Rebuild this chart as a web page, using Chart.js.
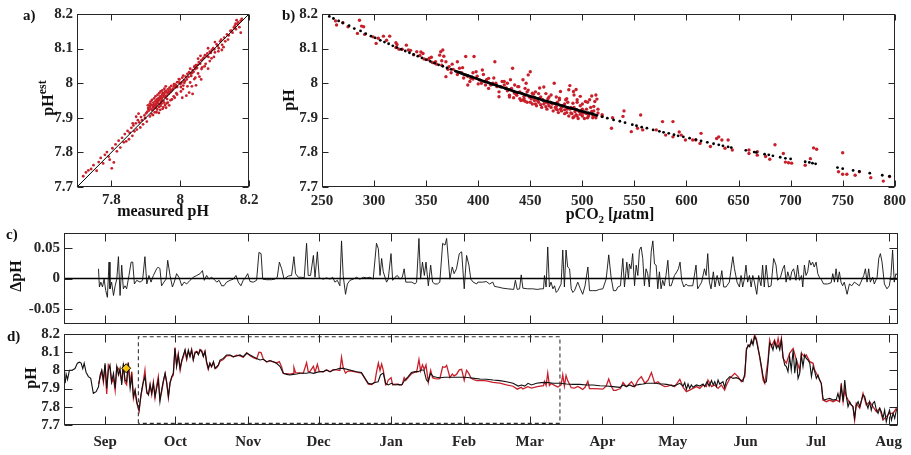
<!DOCTYPE html>
<html><head><meta charset="utf-8">
<script src="https://cdn.jsdelivr.net/npm/chart.js@4.4.0/dist/chart.umd.min.js"></script>
<style>
html,body{margin:0;padding:0;background:#fff;width:911px;height:455px;overflow:hidden}
canvas{position:absolute;left:0;top:0}
</style></head><body>
<canvas id="ca" width="911" height="455"></canvas>
<canvas id="cb" width="911" height="455"></canvas>
<canvas id="cc" width="911" height="455"></canvas>
<canvas id="cd" width="911" height="455"></canvas>
<script>
// ---------------- DATA ----------------
const phTicks = [7.7, 7.8, 7.9, 8, 8.1, 8.2];
const aXTicks = [7.8, 8, 8.2];
const pco2Ticks = [250, 300, 350, 400, 450, 500, 550, 600, 650, 700, 750, 800];
const deltaTicks = [-0.05, 0, 0.05];
const monthLabels = ['Sep','Oct','Nov','Dec','Jan','Feb','Mar','Apr','May','Jun','Jul','Aug'];
const monthDays = [0, 30, 61, 91, 122, 153, 181, 212, 242, 273, 303, 334]; // days since 1 Sep

// panel a: [measured pH, estimated pH]
const scatterA = [
[7.718,7.731],[7.726,7.742],[7.733,7.748],[7.741,7.752],[7.748,7.763],[7.757,7.747],[7.763,7.772],[7.769,7.784],[7.776,7.768],[7.781,7.793],[7.787,7.801],[7.792,7.788],[7.795,7.779],[7.801,7.754],[7.803,7.812],[7.807,7.771],[7.812,7.823],[7.816,7.803],[7.821,7.834],[7.826,7.814],[7.831,7.842],[7.836,7.829],[7.839,7.853],[7.843,7.832],[7.847,7.862],[7.851,7.838],[7.853,7.857],[7.858,7.871],[7.861,7.848],[7.864,7.878],[7.867,7.861],[7.871,7.884],[7.874,7.866],[7.877,7.893],[7.881,7.887],[7.884,7.872],[7.886,7.902],[7.889,7.893],[7.892,7.881],[7.896,7.907],[7.898,7.899],[7.901,7.913],[7.903,7.889],[7.872,7.903],[7.879,7.912],[7.862,7.884],
[7.904,7.917],[7.907,7.928],[7.909,7.921],[7.911,7.934],[7.912,7.904],[7.914,7.926],[7.916,7.938],[7.917,7.911],[7.919,7.922],[7.921,7.931],[7.922,7.944],[7.923,7.927],[7.926,7.933],[7.927,7.937],[7.928,7.948],[7.926,7.916],[7.929,7.929],[7.931,7.941],[7.932,7.953],[7.933,7.924],[7.931,7.936],[7.936,7.942],[7.934,7.947],[7.937,7.957],[7.938,7.931],[7.941,7.939],[7.939,7.951],[7.942,7.962],[7.943,7.934],[7.944,7.946],[7.946,7.952],[7.947,7.957],[7.948,7.967],[7.946,7.941],[7.951,7.949],[7.952,7.961],[7.949,7.972],[7.953,7.944],[7.956,7.959],[7.954,7.971],[7.957,7.977],[7.961,7.964],[7.959,7.976],[7.962,7.954],[7.966,7.969],[7.964,7.982],[7.971,7.974],[7.969,7.987],
[7.906,7.936],[7.912,7.941],[7.914,7.947],[7.918,7.952],[7.924,7.956],[7.928,7.962],[7.934,7.966],[7.939,7.971],[7.943,7.976],[7.948,7.979],[7.954,7.984],[7.958,7.991],[7.931,7.946],[7.936,7.951],[7.924,7.939],[7.921,7.936],[7.913,7.932],[7.908,7.924],[7.941,7.956],[7.944,7.962],[7.952,7.966],[7.957,7.963],[7.963,7.972],[7.967,7.976],[7.972,7.981],[7.976,7.979],[7.982,7.991],[7.986,7.996],[7.991,7.989],[7.996,8.002],
[7.921,7.908],[7.931,7.916],[7.942,7.923],[7.951,7.931],[7.956,7.937],[7.961,7.942],[7.964,7.944],[7.972,7.951],[7.976,7.953],[7.981,7.962],[7.984,7.958],[7.991,7.967],[7.949,7.926],[7.938,7.914],[7.959,7.929],[7.968,7.936],
[7.974,7.992],[7.979,7.984],[7.982,7.997],[7.986,7.988],[7.991,8.003],[7.988,7.994],[7.996,8.012],[8.001,7.998],[7.998,8.011],[8.002,7.989],[8.006,8.016],[8.011,8.008],[8.009,8.022],[8.012,8.001],[8.016,8.019],[8.021,8.027],[8.019,8.011],[8.026,8.032],[8.031,8.028],[8.029,8.042],[8.036,8.038],[8.041,8.047],[8.039,8.033],[8.046,8.052],[8.051,8.053],
[8.004,8.002],[8.009,7.993],[8.014,8.006],[8.024,8.018],[8.032,8.021],[8.034,8.029],[8.042,8.049],[8.044,8.041],[8.049,8.044],[8.058,8.056],
[7.989,7.971],[8.002,7.976],[8.006,7.958],[8.008,7.983],[8.021,7.991],[8.026,7.973],[8.029,8.002],[8.036,7.969],[8.041,8.012],[8.046,7.994],[8.052,8.028],[8.056,8.019],[8.061,8.011],[8.064,8.046],[8.071,8.049],[8.044,8.016],[8.034,7.991],[8.018,7.964],
[8.054,8.061],[8.061,8.066],[8.066,8.071],[8.069,8.074],[8.072,8.081],[8.076,8.079],[8.079,8.086],[8.082,8.076],[8.086,8.091],[8.089,8.088],[8.092,8.096],[8.096,8.101],[8.099,8.098],[8.101,8.089],[8.106,8.112],[8.109,8.108],[8.112,8.101],[8.116,8.121],[8.119,8.126],[8.122,8.111],[8.128,8.132],[8.131,8.121],[8.136,8.141],[8.141,8.138],[8.146,8.151],[8.149,8.152],[8.152,8.146],[8.156,8.161],[8.159,8.166],[8.162,8.156],[8.166,8.171],[8.169,8.176],[8.172,8.162],[8.176,8.181],[8.164,8.182],[8.179,8.186],[8.176,8.146],[8.161,8.172],
[8.074,8.056],[8.086,8.064],[8.091,8.072],[8.098,8.076],[8.111,8.092],[8.121,8.096],[8.126,8.104],[8.139,8.126],[8.081,8.042],[8.062,8.041],[8.059,8.079],[8.081,8.101],[8.052,8.071],[8.101,8.119]
];
const identityLine = [[7.7,7.7],[8.2,8.2]];

// panel b: estimated pH (red) vs pCO2
const estVsPco2 = [
[264,8.168],[263,8.18],[270,8.175],[275,8.163],[286,8.182],[288,8.165],[290,8.163],[284,8.144],[291,8.141],[299,8.134],[304,8.13],[309,8.136],[312,8.124],[315,8.136],[302,8.115],[321,8.117],[321,8.103],[324,8.098],[331,8.11],[333,8.096],[341,8.091],[347,8.086],[353,8.072],[359,8.062],[363,8.081],[364,8.091],[366,8.096],[367,8.078],[369,8.062],[372,8.048],[369,8.019],[380,8.062],[382,8.043],[388,8.024],[388,8.077],[390,7.995],[393,8.014],[396,8.077],[398,8.033],[401,8.01],[404,8.038],[407,7.995],[410,8.014],[414,8.0],[416,8.062],[418,7.99],[420,7.961],[423,8.005],[427,7.986],[431,8.01],[433,8.043],[435,7.971],[439,7.99],[443,8.01],[443,7.951],[446,8.0],[448,8.024],[450,8.033],[452,7.971],[455,7.957],[459,7.986],[462,7.952],[463,7.989],[467,7.942],[470,7.966],[473,8.0],[475,7.933],[476,7.923],[478,7.957],[479,7.976],[483,7.923],[484,7.952],[487,7.981],[489,7.914],[491,7.942],[492,7.966],[492,7.903],[494,7.909],[494,7.982],[495,7.952],[488,7.993],[491.5,7.976],[495,7.923],[498,7.962],[501,7.914],[503,7.947],[506,7.909],[507,7.952],[509,7.963],[511,7.933],[512,7.947],[513,7.966],[514,7.954],[515,7.914],[519,7.904],[519,7.909],
[322,8.112],[327,8.098],[335,8.095],[338,8.082],[344,8.080],[348,8.070],[352,8.068],[356,8.060],[360,8.055],[365,8.052],[371,8.040],[376,8.040],[384,8.030],[390,8.020],[395,8.012],[399,8.020],[403,8.000],[408,8.010],[412,7.995],[417,8.000],[421,7.990],[425,7.995],[428,7.978],[432,7.985],[436,7.970],[440,7.975],[444,7.962],[447,7.975],[451,7.955],[453,7.968],[457,7.950],[460,7.960],[464,7.945],[467,7.955],[471,7.940],[476,7.945],[480,7.930],[483,7.940],[488,7.925],[492,7.930],[497,7.918],[500,7.925],[504,7.912],[509,7.918],[512,7.905],[445,7.948],[455,7.940],[465,7.932],[475,7.925],[485,7.915],[495,7.905],[505,7.900],[470,7.930],[490,7.912],[500,7.905],[460,7.938],[450,7.945],[440,7.955],[430,7.965],[420,7.975],[410,7.985],[480,7.920],[510,7.900],[498,7.935],[486,7.945],[478,7.952],[468,7.960],[458,7.970],[448,7.980],[438,7.990],[428,8.000],
[430,7.960],[434,7.958],[437,7.965],[441,7.950],[444,7.955],[447,7.945],[449,7.960],[452,7.940],[454,7.950],[456,7.935],[458,7.945],[461,7.930],[463,7.940],[466,7.925],[468,7.935],[469,7.945],[472,7.920],[474,7.930],[477,7.915],[479,7.925],[481,7.935],[483,7.912],[485,7.925],[487,7.905],[489,7.930],[491,7.900],[493,7.918],[496,7.898],[498,7.910],[500,7.915],[502,7.898],[504,7.925],[506,7.905],[508,7.930],[510,7.908],[511,7.920],[513,7.900],[515,7.925],[500,7.940],[505,7.945],[495,7.945],[485,7.955],[475,7.960],[465,7.970],[455,7.975],[445,7.985],[435,7.995],[425,8.005],[415,8.015],[405,8.025],[395,8.030],[385,8.045],[375,8.055],[365,8.065],[355,8.075],[345,8.090],[400,7.998],[392,8.005],[386,8.015],[380,8.025],[374,8.030],
[528,7.87],[529,7.90],[540,7.92],[539,7.904],[547,7.86],[553,7.87],[556,7.908],[558,7.865],[571,7.865],[577,7.889],[580,7.85],[587,7.845],[587,7.889],[593,7.859],[595,7.85],[599,7.836],[606,7.836],[609,7.836],[614,7.855],[613,7.826],[623,7.817],[629,7.84],[631,7.845],[634,7.836],[637,7.812],[640,7.836],[644,7.807],[660,7.797],[660,7.807],[668,7.802],[668,7.792],[676,7.788],[680,7.78],[685,7.822],[693,7.797],[695,7.772],[698,7.77],[701,7.769],[714,7.763],[719,7.782],[722,7.813],[725,7.809],[746,7.744],[750,7.799],[750,7.737],[754,7.737],[762,7.734],[766,7.744],[777,7.727],[789,7.717],[795,7.73]
];
// panel b: calculated pH (black) vs pCO2
const calcVsPco2 = [
[257,8.193],[261,8.187],[266,8.180],[270,8.174],[276,8.166],[281,8.158],[287,8.151],[292,8.143],[297,8.136],[301,8.131],[306,8.124],[310,8.119],[314,8.114],[318,8.108],[322,8.103],[326,8.098],[330,8.093],[334,8.088],[338,8.083],[342,8.078],[346,8.073],[350,8.068],[354,8.063],[358,8.058],[362,8.053],[366,8.049],[370,8.044],[374,8.040],[378,8.035],[382,8.031],[386,8.026],[390,8.022],[394,8.018],[398,8.014],[402,8.009],[406,8.005],[410,8.001],[414,7.997],[418,7.993],[422,7.989],[426,7.985],[430,7.981],[434,7.977],[438,7.973],[442,7.970],[446,7.966],[450,7.962],[454,7.959],[458,7.955],[462,7.951],[466,7.948],[470,7.944],[474,7.941],[478,7.937],[482,7.934],[486,7.930],[490,7.927],[494,7.924],[498,7.920],[502,7.917],[506,7.914],[510,7.911],[514,7.907],[519,7.903],[524,7.899],[530,7.894],[536,7.890],[541,7.886],[548,7.880],[552,7.877],[557,7.873],[562,7.870],[568,7.865],[574,7.861],[578,7.858],[583,7.855],[588,7.851],[592,7.848],[597,7.845],[603,7.841],[609,7.837],[614,7.833],[620,7.829],[626,7.825],[631,7.822],[635,7.819],[640,7.816],[643,7.814],[657,7.806],[665,7.801],[667,7.800],[675,7.795],[679,7.793],[683,7.790],[690,7.786],[695,7.783],[700,7.781],[714,7.773],[718,7.771],[721,7.769],[724,7.767],[745,7.756],[750,7.753],[760,7.748],[766,7.745],[776,7.740],[788,7.734],[795,7.731]
];

// panel c: delta pH (est - measured), [day since 1 Sep, value]
const deltaSeries = [
[-2.8,0.016],[-2.4,-0.014],[-1.8,-0.006],[-1.1,-0.014],[-0.4,-0.001],[0.3,-0.020],[1.0,-0.031],[1.7,0.027],[2.1,-0.017],[2.8,-0.006],[3.6,-0.028],[4.3,-0.012],[5.0,-0.001],[5.7,0.036],[6.4,-0.028],[7.1,0.022],[7.8,-0.017],[8.5,-0.012],[9.2,-0.017],[10.2,0.005],[11.1,0.027],[11.8,0.027],[12.5,-0.009],[13.5,-0.003],[14.9,-0.006],[16.0,-0.003],[17.0,0.036],[17.8,-0.009],[18.7,0.005],[19.6,-0.006],[20.6,0.005],[22.0,0.016],[22.7,0.019],[23.4,0.016],[24.1,-0.012],[25.1,-0.006],[26.0,-0.001],[26.7,0.030],[27.7,0.005],[28.7,-0.014],[29.5,-0.006],[30.5,0.008],[31.5,0.002],[32.7,-0.012],[33.7,-0.006],[34.8,-0.009],[36.2,-0.003],[37.6,0.002],[39.1,0.005],[40.5,0.008],[41.5,0.013],[42.3,-0.003],[43.3,0.005],[44.3,-0.001],[45.4,0.002],[46.4,-0.001],[47.6,-0.006],[48.6,-0.003],[49.7,-0.012],[50.7,-0.012],[51.8,-0.006],[53.3,-0.003],[54.7,-0.001],[55.8,0.005],[56.8,-0.006],[57.9,-0.012],[58.9,-0.003],[59.9,0.002],[60.8,0.008],[61.8,-0.005],[63.2,-0.006],[64.6,-0.003],[65.6,0.043],[66.5,0.041],[67.2,-0.001],[68.9,-0.002],[71.0,-0.002],[72.4,-0.001],[73.4,0.002],[74.3,0.027],[75.3,0.016],[76.3,-0.001],[78.1,0.004],[79.5,0.005],[80.5,0.036],[81.2,0.008],[82.4,0.002],[83.8,0.002],[84.9,0.001],[85.9,0.058],[86.6,0.005],[87.6,0.005],[88.8,0.038],[89.5,0.002],[90.5,0.044],[91.3,0.001],[93.0,-0.001],[94.4,0.001],[95.9,-0.001],[97.0,0.002],[98.0,-0.006],[99.0,-0.003],[100.1,-0.012],[100.8,0.062],[101.5,0.005],[102.5,-0.026],[103.3,-0.009],[104.4,-0.003],[105.8,-0.001],[107.2,0.002],[108.6,-0.001],[110.1,0.002],[111.5,0.001],[112.9,0.002],[114.3,-0.001],[115.7,0.058],[116.5,0.049],[117.2,0.005],[117.9,0.033],[118.6,0.011],[120.0,-0.006],[120.7,-0.001],[121.9,0.041],[122.6,-0.003],[123.6,0.002],[124.6,0.005],[125.7,-0.001],[126.7,0.002],[127.5,0.016],[128.2,-0.006],[129.2,-0.006],[130.7,-0.006],[132.1,-0.009],[132.8,-0.006],[133.8,0.066],[134.5,-0.001],[135.3,0.027],[136.1,0.005],[136.8,0.027],[137.8,-0.012],[138.8,0.022],[139.6,-0.006],[140.6,-0.009],[141.7,-0.009],[142.7,-0.006],[143.9,0.058],[144.9,0.055],[145.6,0.066],[146.3,0.033],[147.0,-0.001],[148.0,0.019],[148.8,0.008],[149.8,0.016],[151.0,0.041],[152.0,0.044],[153.1,-0.017],[154.1,0.038],[155.1,0.022],[155.9,-0.001],[156.9,-0.006],[158.4,-0.009],
[158.9,-0.006],[161.0,-0.006],[162.5,-0.005],[163.9,-0.009],[165.3,-0.006],[166.0,-0.013],[167.4,-0.014],[169.6,-0.016],[171.7,-0.017],[174.2,-0.018],[174.9,-0.003],[175.7,-0.018],[176.7,-0.017],[177.4,0.006],[178.1,-0.016],[180.2,-0.017],[182.3,-0.017],[184.2,-0.018],[185.9,-0.017],[186.9,-0.017],[187.3,0.005],[188.0,-0.014],[188.7,0.052],[189.4,-0.014],[190.1,-0.006],[190.9,-0.017],[191.6,-0.012],[192.3,-0.023],[193.0,-0.020],[194.4,-0.009],[195.1,0.047],[195.8,-0.014],[196.5,0.047],[197.2,0.019],[198.0,0.016],[198.7,-0.017],[199.4,-0.023],[200.1,-0.020],[201.5,-0.006],[202.6,-0.017],[203.6,-0.026],[204.6,-0.012],[205.8,0.019],[206.5,-0.020],[207.9,-0.020],[209.3,-0.020],[210.7,-0.018],[212.2,-0.017],[213.6,-0.001],[214.7,0.039],[215.7,0.002],[216.7,-0.020],[217.8,-0.020],[218.6,-0.014],[219.7,-0.012],[220.7,0.033],[221.4,-0.014],[222.4,0.027],[223.1,-0.001],[223.5,0.024],[224.2,0.016],[224.9,0.041],[225.7,-0.012],[226.4,0.022],[227.1,0.005],[227.8,0.047],[228.5,0.052],[229.2,0.033],[229.9,-0.012],[230.6,0.016],[231.3,0.008],[232.0,-0.014],[232.8,0.044],[233.5,0.062],[234.2,0.024],[234.9,0.022],[235.6,-0.017],[236.3,0.011],[237.0,-0.017],[237.7,-0.003],[238.4,-0.012],[239.1,0.005],[239.9,0.030],[240.6,-0.012],[241.3,-0.012],[242.7,0.005],[243.7,0.011],[244.4,0.016],[245.1,0.027],[245.8,-0.003],[246.7,-0.014],[247.7,-0.009],[248.4,-0.012],[249.4,-0.012],[250.5,-0.012],[251.9,0.022],[252.6,-0.017],[253.4,-0.012],[254.3,-0.006],[255.5,0.016],[256.2,0.005],[256.9,0.041],[257.6,-0.006],[258.3,-0.017],[259.3,0.011],[260.0,-0.014],[260.9,0.005],[261.9,-0.012],[262.9,0.013],[263.7,-0.014],[264.7,-0.014],[266.1,-0.006],[267.6,0.036],[268.3,0.016],[269.4,-0.006],[270.4,-0.014],[271.1,0.005],[271.8,-0.014],[272.5,-0.001],[273.2,0.022],[273.9,-0.006],[274.7,0.005],[275.4,-0.014],[276.1,0.005],[276.8,-0.006],[277.8,-0.026],[278.6,0.005],[279.6,-0.012],[280.3,0.022],[281.0,-0.014],[281.8,0.022],[282.8,-0.014],[283.9,-0.012],[285.0,0.033],[286.0,0.022],[286.7,-0.003],[287.9,0.002],[288.9,0.016],[289.6,0.022],[290.3,-0.006],[291.0,0.011],[292.0,-0.003],[292.7,0.011],[293.5,0.016],[294.5,-0.003],[295.2,0.022],[296.0,-0.003],[296.9,0.005],[297.4,-0.014],[298.1,0.022],[298.8,0.005],[299.5,0.011],[300.2,0.030],[300.9,0.022],[301.6,0.027],[302.3,0.019],[303.1,0.027],[303.8,0.008],[304.5,0.002],[305.2,-0.001],[306.3,-0.009],[308.0,-0.009],[309.5,-0.007],[310.2,0.008],[310.9,-0.006],[311.6,0.016],[312.3,-0.006],[313.0,0.011],[313.7,-0.006],[314.4,-0.012],[315.1,-0.006],[316.3,-0.026],[317.3,-0.009],[318.3,-0.012],[319.4,-0.006],[320.5,-0.009],[321.5,-0.012],[322.2,-0.006],[323.4,0.005],[324.1,0.016],[324.8,-0.006],[325.5,0.016],[326.2,-0.006],[327.2,0.002],[327.9,-0.009],[329.1,0.002],[329.8,0.033],[330.5,0.041],[331.2,0.027],[332.2,-0.009],[333.3,-0.017],[334.3,-0.012],[335.0,0.005],[335.7,0.047],[336.4,-0.006],[337.1,0.008],[337.9,0.005]
];

// panel d: measured pH (black), [day, pH]
const measuredSeries = [
[-17.0,7.93],[-16.6,7.98],[-16.0,7.95],[-15.2,8.0],[-14.2,8.0],[-12.8,8.01],[-11.8,8.04],[-10.9,8.045],[-10.2,8.04],[-9.5,8.01],[-8.9,8.04],[-8.1,7.99],[-7.1,7.966],[-6.1,7.956],[-5.0,7.874],[-3.8,7.883],[-2.8,7.91],[-2.1,7.975],[-1.4,8.002],[-0.7,7.947],[0,8.039],[0.7,7.901],[1.4,8.002],[2.1,8.03],[2.8,7.938],[3.6,7.984],[4.3,7.901],[5.0,8.021],[5.7,7.975],[6.4,8.011],[7.1,7.92],[7.8,8.039],[8.5,7.947],[9.2,7.938],[9.9,8.039],[10.7,7.901],[11.4,7.966],[12.1,7.856],[12.8,7.892],[13.5,7.828],[14.5,7.782],[15.3,7.865],[16.0,7.92],[17.0,7.966],[17.8,7.883],[18.5,7.865],[19.2,7.92],[19.9,7.874],[20.6,7.929],[21.3,7.856],[22.0,7.901],[22.7,7.947],[23.4,7.828],[24.1,7.892],[24.9,7.947],[25.6,7.984],[26.3,7.929],[27.0,7.856],[27.7,7.929],[28.4,7.966],[29.1,7.984],[29.8,8.121],[30.5,8.021],[31.2,8.085],[32.0,8.011],[32.7,8.057],[33.4,8.085],[34.1,8.112],[34.8,8.066],[35.5,8.112],[36.2,8.075],[36.9,8.112],[37.6,8.057],[38.3,8.094],[39.1,8.103],[39.8,8.085],[40.5,8.112],[41.2,8.103],[41.9,8.075],[42.6,8.103],[43.3,8.048],[44.0,8.011],[44.7,8.039],[45.4,8.021],[46.2,8.048],[46.9,8.011],[47.6,8.021],[48.3,8.03],[49.0,8.057],[50.4,8.066],[51.8,8.085],[53.3,8.085],[54.7,8.075],[56.1,8.079],[57.5,8.085],[58.9,8.075],[60.4,8.094],[61.8,8.085],[63.2,8.075],[64.6,8.066],[66.0,8.057],[67.5,8.061],[68.9,8.048],[70.3,8.054],[71.7,8.048],[73.1,8.039],[74.6,8.021],[75.3,8.002],[76.0,7.984],[77.4,7.978],[78.8,7.975],[80.2,7.978],[81.7,7.98],[83.1,7.984],[84.5,7.984],[85.9,7.984],[87.3,7.988],[88.8,7.984],[90.2,7.989],[91.6,7.993],[93.0,7.993],[94.4,8.002],[95.9,7.993],[97.3,8.002],[98.7,8.006],[100.1,8.011],[101.5,8.011],
[104.4,8.002],[107.2,7.993],[109.3,7.988],[110.8,7.956],[112.2,7.929],[113.6,7.925],[115.0,7.933],[116.4,7.938],[117.4,7.975],[118.6,7.985],[119.6,7.929],[120.7,7.92],[122.1,7.929],[123.5,7.92],[125.0,7.923],[126.4,7.92],[127.8,7.947],[129.2,7.966],[130.6,7.988],[132.1,7.993],[133.5,7.993],[134.9,8.002],[135.9,8.002],[137.0,7.947],[137.7,7.938],[138.7,7.984],[139.9,7.966],[141.3,7.962],[142.7,7.96],[144.8,7.962],[147.0,7.962],[149.1,7.962],[151.2,7.962],[153.4,7.962],[155.5,7.96],[157.6,7.956],[159.8,7.953],[162.6,7.951],[165.4,7.947],[168.3,7.944],[171.1,7.938],[173.9,7.929],[176.1,7.914],[177.5,7.92],[178.9,7.914],[180.3,7.929],[181.8,7.92],[183.9,7.929],[186.0,7.933],[188.2,7.934],[191.0,7.929],[193.8,7.929],[196.7,7.925],[199.5,7.923],[202.4,7.923],[205.2,7.92],[208.0,7.92],[210.9,7.916],[213.7,7.914],[216.6,7.911],[219.4,7.907],
[220.8,7.92],[222.2,7.911],[223.7,7.92],[225.1,7.911],[226.5,7.92],[227.9,7.923],[229.3,7.925],[230.8,7.929],[232.2,7.929],[233.6,7.929],[235.0,7.929],[236.4,7.925],[237.9,7.925],[239.3,7.923],[240.7,7.92],[242.1,7.914],[243.5,7.92],[245.0,7.929],[246.4,7.914],[247.1,7.933],[247.8,7.896],[248.5,7.925],[249.2,7.901],[249.9,7.92],[250.6,7.907],[252.1,7.92],[253.5,7.914],[254.9,7.925],[255.6,7.911],[256.6,7.938],[257.5,7.914],[258.5,7.944],[259.2,7.92],[259.9,7.938],[260.6,7.911],[261.3,7.947],[262.0,7.925],[263.4,7.938],[264.1,7.907],[264.9,7.947],[265.6,7.956],[266.3,7.966],[267.7,7.956],[269.1,7.96],[270.5,7.951],[271.9,7.938],[272.7,7.984],[273.4,8.112],[274.1,8.14],[274.8,8.13],[275.5,8.167],[276.2,8.14],[276.9,8.185],[277.6,8.167],[278.3,8.121],[279.1,8.075],[279.8,8.021],[280.5,7.966],[281.2,7.933],[281.9,7.938],[282.6,8.039],[283.3,8.149],[284.0,8.14],[284.7,8.112],[285.4,8.158],[286.2,8.121],[286.9,8.14],[287.6,8.112],[288.3,8.167],[289.0,8.075],[289.7,8.03],[290.4,8.021],[291.1,7.993],[291.8,8.075],[292.5,8.002],[293.3,8.112],[294.0,7.984],[294.7,8.066],[295.4,7.956],[296.1,7.984],[296.8,8.085],[297.5,8.021],[298.2,8.085],[298.9,8.066],[299.6,8.057],[300.4,8.039],[301.1,7.966],[301.8,8.021],[302.5,7.993],[303.2,7.956],[303.9,7.975],[304.6,7.947],[305.3,7.929],[306.0,7.847],[306.7,7.837],[307.5,7.841],[308.9,7.847],[310.3,7.837],[311.7,7.841],[312.4,7.874],[313.1,7.837],[313.8,7.911],[314.6,7.828],[315.3,7.947],[316.0,7.856],[316.7,7.801],[317.4,7.828],[318.1,7.81],[318.8,7.801],[319.5,7.737],[320.2,7.81],[321.0,7.828],[321.7,7.801],[323.1,7.865],[323.8,7.856],[324.5,7.819],[325.2,7.792],[325.9,7.828],[326.6,7.782],[327.3,7.819],[328.0,7.828],[328.8,7.782],[329.5,7.764],[330.2,7.792],[330.9,7.773],[331.6,7.737],[332.3,7.782],[333.0,7.718],[333.7,7.755],[334.4,7.782],[335.2,7.727],[335.9,7.764],[336.6,7.737],[337.3,7.782],[338.7,7.801]
];

// panel d: estimated pH (red), [day, pH]
const estimatedSeries = [
[-2.8,7.925],[-2.1,7.96],[-1.4,7.995],[-0.7,7.935],[0,8.03],[0.7,7.87],[1.4,8.03],[2.1,8.013],[2.8,7.932],[3.6,7.956],[4.3,7.89],[5.0,8.02],[5.7,8.01],[6.4,7.983],[7.1,7.942],[7.8,8.022],[8.5,7.935],[9.2,7.921],[9.9,8.044],[10.7,7.928],[11.4,7.993],[12.1,7.847],[12.8,7.889],[13.5,7.822],[14.5,7.776],[15.3,7.861],[16.0,7.911],[17.0,8.002],[17.8,7.874],[18.5,7.87],[19.2,7.925],[19.9,7.868],[20.6,7.935],[21.3,7.85],[22.0,7.917],[22.7,7.966],[23.4,7.844],[24.1,7.88],[24.9,7.94],[25.6,7.983],[26.3,7.934],[27.0,7.85],[27.7,7.935],[28.4,7.96],[29.1,7.975],[29.8,8.125],[30.5,8.03],[31.2,8.09],[32.0,8.0],[32.7,8.05],[33.4,8.075],[34.1,8.11],[34.8,8.06],[35.5,8.105],[36.2,8.08],[36.9,8.115],[37.6,8.06],[38.3,8.10],[39.1,8.105],[39.8,8.09],[40.5,8.115],[41.2,8.11],[41.9,8.08],[42.6,8.105],[43.3,8.04],[44.0,8.005],[44.7,8.04],[45.4,8.02],[46.2,8.045],[46.9,8.01],[47.6,8.015],[48.3,8.027],[49.0,8.05],[50.4,8.06],[51.8,8.08],[53.3,8.082],[54.7,8.074],[56.1,8.084],[57.5,8.08],[58.9,8.073],[60.4,8.097],[61.8,8.08],[63.2,8.07],[64.6,8.063],[65.6,8.10],[66.5,8.098],[67.5,8.06],[68.9,8.046],[70.3,8.052],[71.7,8.047],[73.1,8.041],[74.3,8.048],[75.3,8.018],[76.0,7.983],[77.4,7.982],[78.8,7.98],[80.2,7.983],[80.5,8.016],[81.2,7.988],[83.1,7.986],[84.5,7.985],[85.9,8.042],[86.6,7.993],[87.3,7.993],[88.8,8.022],[89.5,7.99],[90.5,8.033],[91.3,7.994],[93.0,7.992],[94.4,8.003],[95.9,7.992],[97.3,8.004],[98.7,8.003],[100.1,7.999],[100.8,8.073],[101.5,8.016],
[102.5,7.985],[103.3,7.995],[104.4,7.998],[107.2,7.99],[109.3,7.985],[110.8,7.955],[112.2,7.925],[113.6,7.922],[115.0,7.935],[115.7,7.99],[116.5,8.04],[117.2,8.0],[117.9,8.035],[118.6,8.0],[119.6,7.92],[120.0,7.922],[120.7,7.947],[121.9,7.96],[122.6,7.92],[123.6,7.925],[124.6,7.925],[125.7,7.92],[126.7,7.923],[127.5,7.96],[128.2,7.945],[129.2,7.96],[130.7,7.982],[132.1,7.99],[132.8,7.99],[133.8,8.06],[134.5,7.998],[135.3,8.03],[136.1,8.005],[136.8,8.03],[137.8,7.935],[138.8,8.0],[139.6,7.96],[140.6,7.955],[141.7,7.953],[142.7,7.955],[143.9,8.02],[144.9,8.017],[145.6,8.028],[146.3,7.995],[147.0,7.961],[148.0,7.98],[148.8,7.97],[149.8,7.978],[151.0,8.003],[152.0,8.006],[153.1,7.945],[154.1,8.0],[155.1,7.982],[155.9,7.959],[156.9,7.95],[158.4,7.944],[160.0,7.945],[162.6,7.943],[165.3,7.934],[168.3,7.93],[171.1,7.921],[173.9,7.913],[175.7,7.897],[177.4,7.907],[178.1,7.898],[180.2,7.911],[181.8,7.903],[184.2,7.911],[186.9,7.916],[187.3,7.939],[188.0,7.917],[188.7,7.986],[189.4,7.917],[190.1,7.928],[191.6,7.918],[193.0,7.909],[194.4,7.92],[195.1,7.976],[195.8,7.914],[196.5,7.972],[197.2,7.944],[198.7,7.905],[200.1,7.903],[201.5,7.912],[202.6,7.904],[203.6,7.895],[204.6,7.907],[205.8,7.94],[206.5,7.90],[208.0,7.90],[210.7,7.898],[212.2,7.897],[213.6,7.913],[214.7,7.953],[215.7,7.915],[216.7,7.89],[217.8,7.89],[218.6,7.895],[219.7,7.9],
[220.8,7.933],[222.2,7.911],[224.4,7.938],[225.8,7.911],[227.2,7.947],[228.6,7.966],[230.1,7.929],[231.5,7.947],[232.9,7.988],[234.3,7.929],[235.7,7.938],[237.2,7.92],[238.6,7.911],[240.0,7.914],[241.4,7.92],[242.8,7.911],[244.3,7.938],[245.0,7.951],[246.4,7.907],[247.8,7.883],[249.2,7.892],[250.6,7.901],[252.1,7.911],[253.5,7.901],[254.9,7.92],[256.3,7.911],[257.0,7.947],[258.5,7.911],[259.9,7.92],[261.3,7.901],[262.7,7.92],[264.1,7.892],[264.9,7.92],[266.3,7.956],[267.7,7.975],[268.4,7.984],[269.8,7.966],[271.2,7.938],[272.7,7.966],[273.4,8.121],[274.8,8.14],[276.2,8.158],[276.9,8.195],[277.6,8.176],[278.3,8.13],[279.1,8.066],[279.8,8.011],[280.5,7.947],[281.2,7.929],[282.6,8.057],[283.3,8.167],[284.0,8.13],[284.7,8.149],[285.4,8.167],[286.2,8.13],[286.9,8.176],[287.6,8.13],[288.3,8.176],[289.0,8.066],[290.4,8.039],[291.8,8.094],[293.3,8.121],[294.7,8.057],[296.1,8.002],[296.8,8.094],[298.2,8.075],[298.9,8.085],[300.4,8.048],[301.8,8.039],[302.5,8.002],[303.2,7.984],[304.6,7.947],[305.3,7.929],[306.0,7.837],[307.5,7.828],[308.9,7.837],[310.3,7.828],[311.7,7.837],[313.1,7.828],[313.8,7.929],[314.6,7.828],[315.3,7.892],[316.0,7.856],[317.4,7.819],[318.8,7.801],[319.5,7.727],[320.2,7.819],[321.7,7.792],[323.1,7.874],[324.5,7.81],[325.9,7.828],[327.3,7.801],[328.8,7.773],[330.2,7.792],[331.6,7.727],[333.0,7.746],[334.4,7.764],[335.9,7.764],[337.3,7.792],[338.7,7.81]
];
const boxDays = [14.2, 193.9];
const boxPH = [7.709, 8.185];
const markerPoint = [9.0, 8.012];

// ---------------- RENDERING ----------------
const FAM = '"Liberation Serif", "Times New Roman", serif';
const AX = '#262626';
const RED = '#c8202b';
const B15 = 'bold 15px ' + FAM, B16 = 'bold 16px ' + FAM, B12 = 'bold 12px ' + FAM, B11 = 'bold 11px ' + FAM, BI16 = 'italic bold 16px ' + FAM;
const pts = arr => arr.map(p => ({x: p[0], y: p[1]}));

function drawRuns(ctx, it) {
  ctx.save();
  ctx.fillStyle = it.color || '#111';
  ctx.textBaseline = 'alphabetic';
  let w = 0;
  it.runs.forEach(r => { ctx.font = r.f; r.w = ctx.measureText(r.t).width; w += r.w; });
  ctx.translate(it.x, it.y);
  if (it.rot) ctx.rotate(it.rot);
  let x = it.align === 'left' ? 0 : -w / 2;
  it.runs.forEach(r => { ctx.font = r.f; ctx.fillText(r.t, x, r.dy || 0); x += r.w; });
  ctx.restore();
}

const framePlugin = {
  id: 'frame',
  afterDatasetsDraw(chart, args, opts) {
    const ctx = chart.ctx, a = chart.chartArea;
    const xs = chart.scales.x, ys = chart.scales.y, tl = opts.tickLen || 6;
    const L = Math.round(a.left) + 0.5, R = Math.round(a.right) - 0.5, T = Math.round(a.top) + 0.5, B = Math.round(a.bottom) - 0.5;
    ctx.save();
    ctx.strokeStyle = AX; ctx.lineWidth = 1;
    ctx.beginPath();
    xs.ticks.forEach(t => {
      const px = Math.round(xs.getPixelForValue(t.value)) + 0.5;
      ctx.moveTo(px, B); ctx.lineTo(px, B - tl);
      ctx.moveTo(px, T); ctx.lineTo(px, T + tl);
    });
    ys.ticks.forEach(t => {
      const py = Math.round(ys.getPixelForValue(t.value)) + 0.5;
      ctx.moveTo(L, py); ctx.lineTo(L + tl, py);
      ctx.moveTo(R, py); ctx.lineTo(R - tl, py);
    });
    ctx.stroke();
    ctx.strokeRect(L, T, R - L, B - T);
    ctx.restore();
  },
  afterDraw(chart, args, opts) {
    (opts.texts || []).forEach(it => drawRuns(chart.ctx, it));
  }
};
Chart.register(framePlugin);

function axis(min, max, tickVals, o) {
  o = o || {};
  return {
    type: 'linear', min, max,
    grid: {display: false, drawTicks: false}, border: {display: false},
    afterBuildTicks: s => { s.ticks = tickVals.map(v => ({value: v})); },
    ticks: {
      display: o.labels !== false, color: AX, padding: o.pad || 4, autoSkip: false, maxRotation: 0,
      font: {family: FAM, size: 15, weight: 'bold'},
      callback: o.cb || (v => String(v))
    }
  };
}

function makeChart(id, area, datasets, xAx, yAx, texts, tickLen) {
  const [L, T, R, B] = area;
  xAx.afterFit = s => { s.height = 455 - B; };
  yAx.afterFit = s => { s.width = L; };
  return new Chart(document.getElementById(id), {
    type: 'scatter',
    data: {datasets},
    options: {
      responsive: false, animation: false, devicePixelRatio: 1, events: [],
      layout: {padding: {left: 0, top: T, right: 911 - R, bottom: 0}},
      scales: {x: xAx, y: yAx},
      plugins: {legend: {display: false}, tooltip: {enabled: false}, frame: {tickLen, texts}}
    }
  });
}

// Panel a
makeChart('ca', [77, 14, 249, 187], [
  {data: pts(identityLine), showLine: true, borderColor: '#000', borderWidth: 1, pointRadius: 0},
  {data: pts(scatterA), pointRadius: 1.4, pointBackgroundColor: RED, pointBorderWidth: 0, showLine: false}
], axis(7.7, 8.2, aXTicks, {pad: 4}), axis(7.7, 8.2, phTicks, {pad: 4}), [
  {runs: [{t: 'a)', f: B15}], x: 23, y: 20, align: 'left'},
  {runs: [{t: 'measured pH', f: B16}], x: 163, y: 216},
  {runs: [{t: 'pH', f: B16}, {t: 'est', f: B12, dy: -7}], x: 53, y: 98, rot: -Math.PI / 2}
], 6);

// Panel b
const calcDense = calcVsPco2.filter(p => p[0] >= 376 && p[0] <= 515);
makeChart('cb', [322, 14, 898, 187], [
  {data: pts(calcDense), showLine: true, borderColor: '#000', borderWidth: 2.6, pointRadius: 0},
  {data: pts(calcVsPco2), pointRadius: 1.4, pointBackgroundColor: '#000', pointBorderWidth: 0, showLine: false},
  {data: pts(estVsPco2), pointRadius: 1.7, pointBackgroundColor: RED, pointBorderWidth: 0, showLine: false}
], axis(250, 800, pco2Ticks, {pad: 5}), axis(7.7, 8.2, phTicks, {pad: 4}), [
  {runs: [{t: 'b)', f: B15}], x: 282, y: 20, align: 'left'},
  {runs: [{t: 'pH', f: B16}], x: 294, y: 100, rot: -Math.PI / 2},
  {runs: [{t: 'pCO', f: B16}, {t: '2', f: B11, dy: 4}, {t: ' [', f: B16}, {t: 'μ', f: BI16}, {t: 'atm]', f: B16}], x: 610, y: 219}
], 6);

// Panel c
makeChart('cc', [64, 233, 898, 324], [
  {data: [{x: -17.5, y: 0}, {x: 338, y: 0}], showLine: true, borderColor: '#000', borderWidth: 1.3, pointRadius: 0},
  {data: pts(deltaSeries), showLine: true, borderColor: '#111', borderWidth: 0.9, pointRadius: 0, tension: 0}
], axis(-17.5, 338, monthDays, {labels: false}), axis(-0.075, 0.075, deltaTicks, {pad: 4}), [
  {runs: [{t: 'c)', f: B15}], x: 6, y: 239, align: 'left'},
  {runs: [{t: 'ΔpH', f: B16}], x: 21, y: 276, rot: -Math.PI / 2}
], 8);

// Panel d
const boxLine = [[boxDays[0], boxPH[0]], [boxDays[0], boxPH[1]], [boxDays[1], boxPH[1]], [boxDays[1], boxPH[0]], [boxDays[0], boxPH[0]]];
makeChart('cd', [64, 334, 898, 425], [
  {data: [{x: markerPoint[0], y: markerPoint[1]}], pointStyle: 'rectRot', pointRadius: 4.5, pointBackgroundColor: '#f4c20d', pointBorderColor: '#000', pointBorderWidth: 1, showLine: false},
  {data: pts(boxLine), showLine: true, borderColor: '#333', borderWidth: 1.1, borderDash: [4, 3], pointRadius: 0},
  {data: pts(measuredSeries), showLine: true, borderColor: '#111', borderWidth: 1.1, pointRadius: 0, tension: 0},
  {data: pts(estimatedSeries), showLine: true, borderColor: RED, borderWidth: 1.3, pointRadius: 0, tension: 0}
], axis(-17.5, 338, monthDays, {pad: 8, cb: (v, i) => monthLabels[i]}), axis(7.7, 8.2, phTicks, {pad: 4}), [
  {runs: [{t: 'd)', f: B15}], x: 7, y: 341, align: 'left'},
  {runs: [{t: 'pH', f: B16}], x: 36, y: 378, rot: -Math.PI / 2}
], 8);
</script>
</body></html>
